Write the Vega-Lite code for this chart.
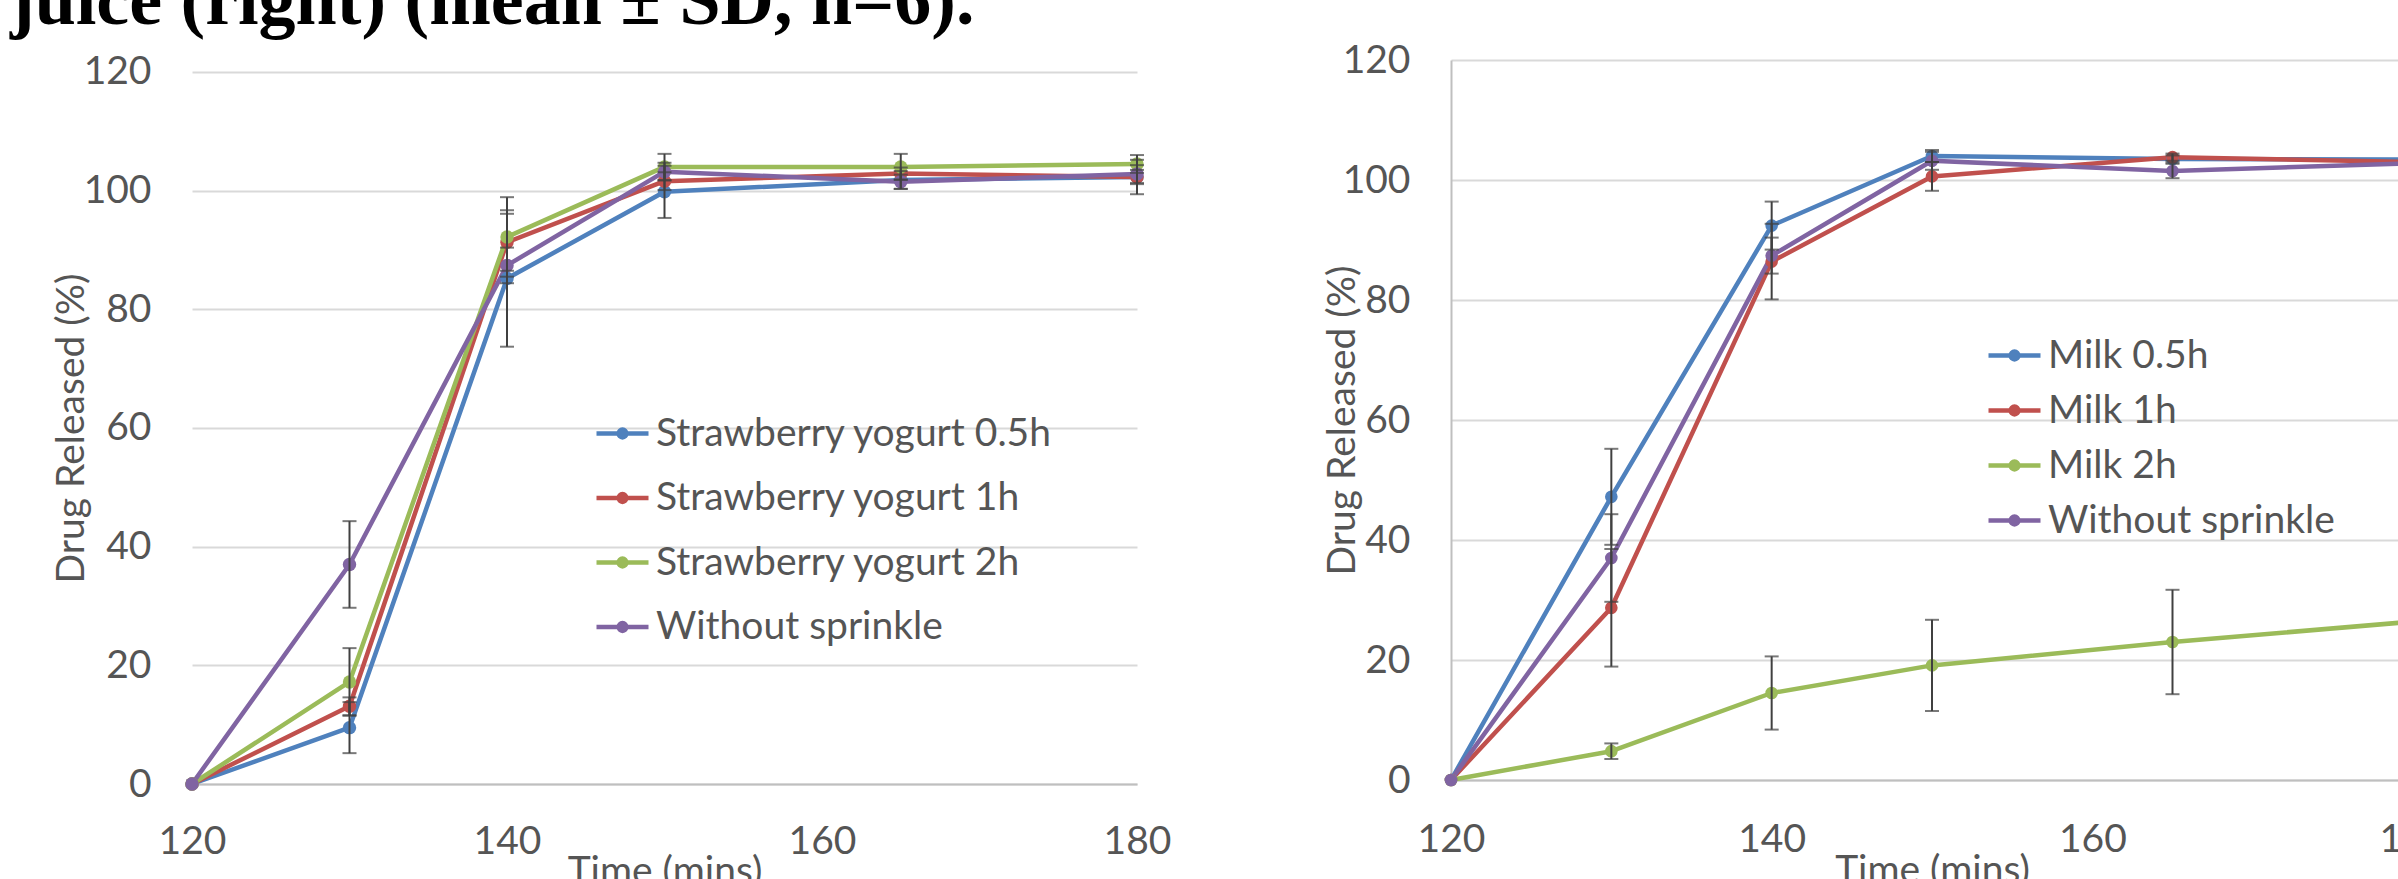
{
  "$schema": "https://vega.github.io/schema/vega-lite/v6.json",
  "background": "white",
  "padding": {"left": 10, "top": -35, "right": -47, "bottom": -10},
  "title": {
    "text": "juice (right) (mean ± SD, n=6).",
    "anchor": "start",
    "font": "Liberation Serif",
    "fontSize": 74,
    "fontWeight": "bold",
    "color": "#000000",
    "baseline": "alphabetic",
    "dx": -42,
    "offset": -57
  },
  "datasets": {
    "yogurt": [
      {"series": "Strawberry yogurt 0.5h", "t": 120, "mean": 0, "sd": null},
      {"series": "Strawberry yogurt 0.5h", "t": 130, "mean": 9.5, "sd": 4.3},
      {"series": "Strawberry yogurt 0.5h", "t": 140, "mean": 85.2, "sd": 11.5},
      {"series": "Strawberry yogurt 0.5h", "t": 150, "mean": 99.8, "sd": 4.4},
      {"series": "Strawberry yogurt 0.5h", "t": 165, "mean": 101.8, "sd": 1.5},
      {"series": "Strawberry yogurt 0.5h", "t": 180, "mean": 102.3, "sd": 2.9},
      {"series": "Strawberry yogurt 1h", "t": 120, "mean": 0, "sd": null},
      {"series": "Strawberry yogurt 1h", "t": 130, "mean": 13.1, "sd": 1.5},
      {"series": "Strawberry yogurt 1h", "t": 140, "mean": 91.3, "sd": 4.8},
      {"series": "Strawberry yogurt 1h", "t": 150, "mean": 101.6, "sd": 1.5},
      {"series": "Strawberry yogurt 1h", "t": 165, "mean": 102.9, "sd": 1.0},
      {"series": "Strawberry yogurt 1h", "t": 180, "mean": 102.3, "sd": 1.2},
      {"series": "Strawberry yogurt 2h", "t": 120, "mean": 0, "sd": null},
      {"series": "Strawberry yogurt 2h", "t": 130, "mean": 17.2, "sd": 5.7},
      {"series": "Strawberry yogurt 2h", "t": 140, "mean": 92.2, "sd": 6.7},
      {"series": "Strawberry yogurt 2h", "t": 150, "mean": 104.0, "sd": 2.2},
      {"series": "Strawberry yogurt 2h", "t": 165, "mean": 104.0, "sd": 2.2},
      {"series": "Strawberry yogurt 2h", "t": 180, "mean": 104.5, "sd": 1.5},
      {"series": "Without sprinkle", "t": 120, "mean": 0, "sd": null},
      {"series": "Without sprinkle", "t": 130, "mean": 37.0, "sd": 7.3},
      {"series": "Without sprinkle", "t": 140, "mean": 87.4, "sd": 3.0},
      {"series": "Without sprinkle", "t": 150, "mean": 103.2, "sd": 1.5},
      {"series": "Without sprinkle", "t": 165, "mean": 101.5, "sd": 1.2},
      {"series": "Without sprinkle", "t": 180, "mean": 102.8, "sd": 1.5}
    ],
    "milk": [
      {"series": "Milk 0.5h", "t": 120, "mean": 0, "sd": null},
      {"series": "Milk 0.5h", "t": 130, "mean": 47.2, "sd": 8.0},
      {"series": "Milk 0.5h", "t": 140, "mean": 92.4, "sd": 4.0},
      {"series": "Milk 0.5h", "t": 150, "mean": 104.0, "sd": 1.0},
      {"series": "Milk 0.5h", "t": 165, "mean": 103.5, "sd": 0.6},
      {"series": "Milk 0.5h", "t": 180, "mean": 103.4, "sd": 0.6},
      {"series": "Milk 1h", "t": 120, "mean": 0, "sd": null},
      {"series": "Milk 1h", "t": 130, "mean": 28.7, "sd": 9.8},
      {"series": "Milk 1h", "t": 140, "mean": 86.4, "sd": 6.3},
      {"series": "Milk 1h", "t": 150, "mean": 100.6, "sd": 2.4},
      {"series": "Milk 1h", "t": 165, "mean": 103.8, "sd": 0.6},
      {"series": "Milk 1h", "t": 180, "mean": 103.0, "sd": 0.6},
      {"series": "Milk 2h", "t": 120, "mean": 0, "sd": null},
      {"series": "Milk 2h", "t": 130, "mean": 4.8, "sd": 1.3},
      {"series": "Milk 2h", "t": 140, "mean": 14.5, "sd": 6.1},
      {"series": "Milk 2h", "t": 150, "mean": 19.1, "sd": 7.6},
      {"series": "Milk 2h", "t": 165, "mean": 23.0, "sd": 8.7},
      {"series": "Milk 2h", "t": 180, "mean": 26.4, "sd": 9.0},
      {"series": "Without sprinkle", "t": 120, "mean": 0, "sd": null},
      {"series": "Without sprinkle", "t": 130, "mean": 37.0, "sd": 7.3},
      {"series": "Without sprinkle", "t": 140, "mean": 87.4, "sd": 3.0},
      {"series": "Without sprinkle", "t": 150, "mean": 103.2, "sd": 1.5},
      {"series": "Without sprinkle", "t": 165, "mean": 101.5, "sd": 1.2},
      {"series": "Without sprinkle", "t": 180, "mean": 102.8, "sd": 1.5}
    ]
  },
  "spacing": 152,
  "hconcat": [
    {
      "width": 945,
      "height": 724,
      "encoding": {
        "x": {
          "field": "t", "type": "quantitative", "title": "Time (mins)",
          "scale": {"domain": [120, 180], "nice": false, "zero": false},
          "axis": {"values": [120, 140, 160, 180], "grid": false, "labelFlush": false, "labelPadding": 38, "titleY": 68, "titleBaseline": "top"}
        },
        "y": {
          "field": "mean", "type": "quantitative", "title": "Drug Released (%)",
          "scale": {"domain": [0, 122.02], "nice": false},
          "axis": {"values": [0, 20, 40, 60, 80, 100, 120], "grid": true, "domain": false, "labelPadding": 41, "titleX": -121, "titleY": 368, "titleBaseline": "middle", "titleAlign": "center"}
        }
      },
      "layer": [
        {
          "data": {"values": [{}]},
          "mark": {"type": "rule", "color": "#bfbfbf", "strokeWidth": 2},
          "encoding": {
            "x": {"datum": 120, "type": "quantitative", "title": "Time (mins)"},
            "y": {"datum": 0, "type": "quantitative", "title": "Drug Released (%)"},
            "y2": {"datum": 120}
          }
        },
        {
          "data": {"name": "yogurt"},
          "mark": {"type": "line", "strokeWidth": 4.5, "strokeJoin": "round", "point": {"filled": true, "size": 180, "opacity": 1}},
          "encoding": {
            "color": {
              "field": "series", "type": "nominal",
              "scale": {"domain": ["Strawberry yogurt 0.5h", "Strawberry yogurt 1h", "Strawberry yogurt 2h", "Without sprinkle"], "range": ["#4F81BD", "#C0504D", "#9BBB59", "#8064A2"]},
              "legend": {
                "orient": "none", "legendX": 402, "legendY": 345, "title": null,
                "labelFont": "Lato", "labelFontSize": 39, "labelColor": "#555555", "labelLimit": 0,
                "symbolType": "M-1,0H1M-0.15,0A0.15,0.15,0,1,1,0.15,0A0.15,0.15,0,1,1,-0.15,0M-0.05,0A0.05,0.05,0,1,1,0.05,0A0.05,0.05,0,1,1,-0.05,0",
                "symbolSize": 2704, "symbolStrokeWidth": 4.5, "rowPadding": 15.5, "labelOffset": 5
              }
            }
          }
        },
        {
          "data": {"name": "yogurt"},
          "transform": [{"filter": "datum.sd != null"}],
          "mark": {"type": "errorbar", "ticks": true, "size": 14, "thickness": 2, "color": "#404040"},
          "encoding": {
            "yError": {"field": "sd"}
          }
        }
      ]
    },
    {
      "width": 962,
      "height": 720,
      "encoding": {
        "x": {
          "field": "t", "type": "quantitative", "title": "Time (mins)",
          "scale": {"domain": [120, 180], "nice": false, "zero": false},
          "axis": {"values": [120, 140, 160, 180], "grid": false, "labelFlush": false, "labelPadding": 40, "titleY": 71, "titleBaseline": "top"}
        },
        "y": {
          "field": "mean", "type": "quantitative", "title": "Drug Released (%)",
          "scale": {"domain": [0, 120], "nice": false},
          "axis": {"values": [0, 20, 40, 60, 80, 100, 120], "grid": true, "domain": true, "labelPadding": 41, "titleX": -109, "titleY": 360, "titleBaseline": "middle", "titleAlign": "center"}
        }
      },
      "layer": [
        {
          "data": {"name": "milk"},
          "mark": {"type": "line", "strokeWidth": 4.5, "strokeJoin": "round", "point": {"filled": true, "size": 160, "opacity": 1}},
          "encoding": {
            "color": {
              "field": "series", "type": "nominal",
              "scale": {"domain": ["Milk 0.5h", "Milk 1h", "Milk 2h", "Without sprinkle"], "range": ["#4F81BD", "#C0504D", "#9BBB59", "#8064A2"]},
              "legend": {
                "orient": "none", "legendX": 535, "legendY": 267, "title": null,
                "labelFont": "Lato", "labelFontSize": 39, "labelColor": "#555555", "labelLimit": 0,
                "symbolType": "M-1,0H1M-0.15,0A0.15,0.15,0,1,1,0.15,0A0.15,0.15,0,1,1,-0.15,0M-0.05,0A0.05,0.05,0,1,1,0.05,0A0.05,0.05,0,1,1,-0.05,0",
                "symbolSize": 2704, "symbolStrokeWidth": 4.5, "rowPadding": 6, "labelOffset": 5
              }
            }
          }
        },
        {
          "data": {"name": "milk"},
          "transform": [{"filter": "datum.sd != null"}],
          "mark": {"type": "errorbar", "ticks": true, "size": 14, "thickness": 2, "color": "#404040"},
          "encoding": {
            "yError": {"field": "sd"}
          }
        }
      ]
    }
  ],
  "resolve": {
    "scale": {"color": "independent", "x": "independent", "y": "independent"},
    "legend": {"color": "independent"}
  },
  "config": {
    "view": {"stroke": null},
    "axis": {
      "labelFont": "Lato", "labelFontSize": 39, "labelColor": "#555555",
      "titleFont": "Lato", "titleFontSize": 39, "titleColor": "#555555", "titleFontWeight": "normal",
      "gridColor": "#d9d9d9", "gridWidth": 2,
      "domainColor": "#bfbfbf", "domainWidth": 2,
      "ticks": false, "tickSize": 0
    }
  }
}
